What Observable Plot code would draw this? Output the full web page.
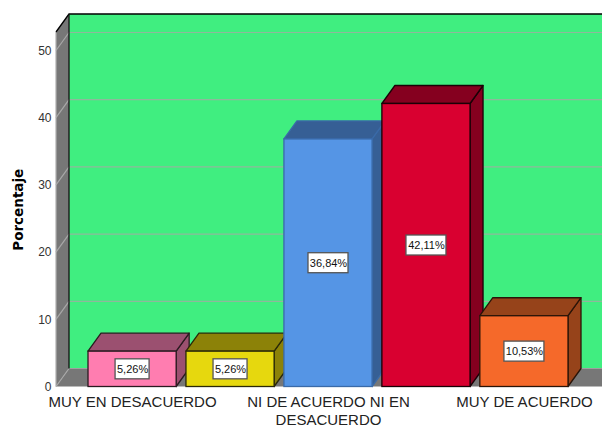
<!DOCTYPE html>
<html>
<head>
<meta charset="utf-8">
<script src="https://cdn.jsdelivr.net/npm/d3@7"></script>
<script src="https://cdn.jsdelivr.net/npm/@observablehq/plot@0.6"></script>
<style>html,body{margin:0;padding:0;background:#fff;overflow:hidden}svg{display:block}</style>
</head>
<body>
<div id="chart"></div>
<script>
const categories = ["MUY EN DESACUERDO", "EN DESACUERDO", "NI DE ACUERDO NI EN DESACUERDO", "DE ACUERDO", "MUY DE ACUERDO"];
const values = [5.26, 5.26, 36.84, 42.11, 10.53];
const valueLabels = ["5,26%", "5,26%", "36,84%", "42,11%", "10,53%"];
const frontColors = ["#FF7DB0", "#E6D80E", "#5595E5", "#D90030", "#F5692A"];
const shadeColors = ["#9B5070", "#8C8208", "#365F95", "#85001F", "#96431A"];
const edgeColors = ["#2a1a20", "#2a2808", "#3a6aa8", "#1a0006", "#2a1408"];
const xTickLabels = {"MUY EN DESACUERDO": "MUY EN DESACUERDO", "NI DE ACUERDO NI EN DESACUERDO": "NI DE ACUERDO NI EN\nDESACUERDO", "MUY DE ACUERDO": "MUY DE ACUERDO"};
const yTicks = [0, 10, 20, 30, 40, 50];
const yMax = 52.75;

const rows = categories.map((c, i) => ({category: c, value: values[i], label: valueLabels[i], front: frontColors[i], shade: shadeColors[i], edge: edgeColors[i]}));
const DX = 13, DY = 18;
const NS = "http://www.w3.org/2000/svg";
function el(tag, attrs, parent) {
  const e = document.createElementNS(NS, tag);
  for (const k in attrs) e.setAttribute(k, attrs[k]);
  if (parent) parent.appendChild(e);
  return e;
}
const pts = a => a.map(p => p.join(",")).join(" ");
const bandOf = s => typeof s.x.bandwidth === "function" ? s.x.bandwidth() : s.x.bandwidth;

function room(index, scales, values, dims) {
  const g = el("g", {});
  const L = dims.marginLeft, R = dims.width, B = scales.y(0), T = scales.y(yMax);
  el("rect", {x: L + DX, y: T - DY, width: R - L - DX, height: B - T, fill: "#40EE80"}, g);
  el("polygon", {points: pts([[L, T], [L + DX, T - DY], [L + DX, B - DY], [L, B]]), fill: "#777777"}, g);
  el("polygon", {points: pts([[L, B], [L + DX, B - DY], [R, B - DY], [R, B]]), fill: "#777777"}, g);
  for (const t of yTicks.slice(1)) {
    const y = scales.y(t);
    el("line", {x1: L + DX, x2: R, y1: y - DY, y2: y - DY, stroke: "#8FB89C", "stroke-width": 1.2}, g);
    el("line", {x1: L, x2: L + DX, y1: y, y2: y - DY, stroke: "#A8A8A8", "stroke-width": 1.2}, g);
  }
  el("line", {x1: L, x2: L + DX, y1: B, y2: B - DY, stroke: "#A8A8A8", "stroke-width": 1.2}, g);
  el("line", {x1: L + DX, x2: R, y1: B - DY, y2: B - DY, stroke: "#A0A0A0", "stroke-width": 1.2}, g);
  el("line", {x1: L, x2: L, y1: T, y2: B, stroke: "#B0B0B0", "stroke-width": 1.2}, g);
  el("polyline", {points: pts([[L, T], [L + DX, T - DY], [R, T - DY]]), fill: "none", stroke: "#000", "stroke-width": 1.3}, g);
  el("line", {x1: L + DX, x2: L + DX, y1: T - DY, y2: B - DY, stroke: "#111", "stroke-width": 1.3}, g);
  return g;
}

function prismMark(d) {
  return [
    (index, scales) => {
      const g = el("g", {});
      const x0 = scales.x(d.category), x1 = x0 + bandOf(scales), yt = scales.y(d.value), yb = scales.y(0);
      const common = {fill: d.shade, stroke: d.edge, "stroke-width": 1.3, "stroke-linejoin": "round"};
      el("polygon", {points: pts([[x1, yt], [x1 + DX, yt - DY], [x1 + DX, yb - DY], [x1, yb]]), ...common}, g);
      el("polygon", {points: pts([[x0, yt], [x0 + DX, yt - DY], [x1 + DX, yt - DY], [x1, yt]]), ...common}, g);
      return g;
    },
    Plot.barY([d], {x: "category", y: "value", fill: "front", stroke: "edge", strokeWidth: 1.3})
  ];
}

function labelBoxes(index, scales) {
  const g = el("g", {});
  for (const d of rows) {
    const cx = scales.x(d.category) + bandOf(scales) / 2, cy = scales.y(d.value / 2);
    const w = d.label.length * 6 + 4, h = 20;
    el("rect", {x: cx - w / 2, y: cy - h / 2, width: w, height: h, fill: "#fff", stroke: "#555", "stroke-width": 1.3}, g);
  }
  return g;
}

const chart = Plot.plot({
  width: 602,
  height: 427,
  marginTop: 32,
  marginLeft: 56,
  marginRight: 0,
  marginBottom: 40.5,
  style: {fontFamily: "Liberation Sans, Arial, sans-serif", background: "#fff", overflow: "hidden"},
  x: {domain: categories, range: [88, 568], paddingInner: 0.1, paddingOuter: 0, round: false, label: null},
  y: {domain: [0, yMax], label: null},
  marks: [
    room,
    ...rows.flatMap(prismMark),
    labelBoxes,
    Plot.text(rows, {
      x: "category",
      y: d => d.value / 2,
      text: "label",
      fontSize: 11,
      fill: "#111"
    }),
    Plot.ruleY([0], {stroke: "#111", strokeWidth: 1.3, x1: 56, x2: 602}),
    Plot.axisY({
      ticks: yTicks, tickSize: 0, tickPadding: 5, fontSize: 12, label: null,
      anchor: "left", fill: "#333"
    }),
    Plot.axisX({
      tickSize: 0, tickPadding: 8, fontSize: 15, label: null, lineHeight: 1.17, fill: "#222",
      tickFormat: c => xTickLabels[c] ?? "", textOverflow: null
    }),
    Plot.text(["Porcentaje"], {
      frameAnchor: "left", dx: -38, rotate: -90, fontSize: 13.5, fontFamily: "DejaVu Sans", fontWeight: "bold", fill: "#000", textAnchor: "middle"
    })
  ]
});
document.getElementById("chart").appendChild(chart);
</script>
</body>
</html>
